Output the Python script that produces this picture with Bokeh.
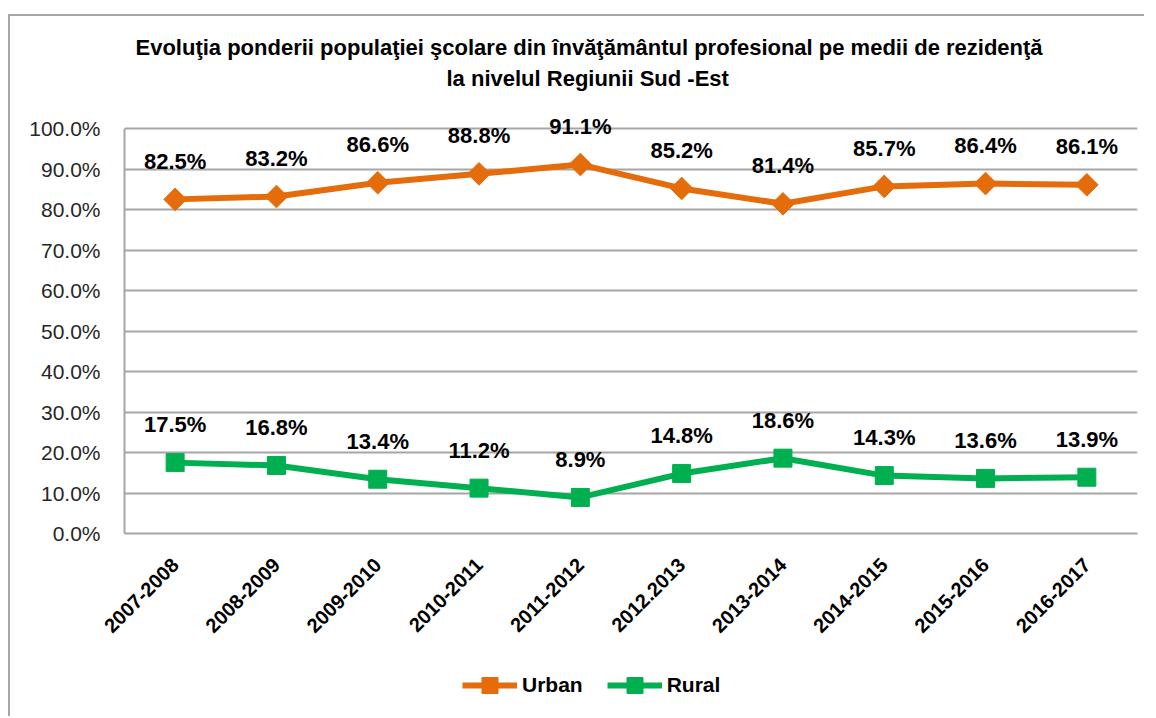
import math
from bokeh.plotting import figure
from bokeh.layouts import column
from bokeh.models import (ColumnDataSource, FactorRange, Range1d, FixedTicker,
                          PrintfTickFormatter, Title, Legend, LegendItem)
from bokeh.core.properties import value
from bokeh.embed import file_html
from bokeh.resources import INLINE

# ---- data ----
years = ["2007-2008", "2008-2009", "2009-2010", "2010-2011", "2011-2012",
         "2012.2013", "2013-2014", "2014-2015", "2015-2016", "2016-2017"]
urban = [82.5, 83.2, 86.6, 88.8, 91.1, 85.2, 81.4, 85.7, 86.4, 86.1]
rural = [17.5, 16.8, 13.4, 11.2, 8.9, 14.8, 18.6, 14.3, 13.6, 13.9]
y_ticks = [0, 10, 20, 30, 40, 50, 60, 70, 80, 90, 100]
series_names = ["Urban", "Rural"]
title_lines = ["Evoluţia ponderii populaţiei şcolare din învăţământul profesional pe medii de rezidenţă",
               "la nivelul Regiunii Sud -Est"]

FONT = "Liberation Sans"
ORANGE = "#E46C0A"
GREEN = "#00B050"
GRID = "#a6a6a6"

# layout (pixels)
FIG_W = 1134
PLOT_H = 405          # height of the 0..100 area
TOP_ROOM = 36         # frame room above 100 % for data labels
B_LEFT, B_TOP, B_RIGHT, B_BOTTOM = 114, 76, 7, 112
FIG_H = B_TOP + TOP_ROOM + PLOT_H + B_BOTTOM
y_top = y_ticks[-1] + TOP_ROOM / PLOT_H * (y_ticks[-1] - y_ticks[0])

p = figure(x_range=FactorRange(*years), y_range=Range1d(y_ticks[0], y_top),
           width=FIG_W, height=FIG_H, output_backend="svg", toolbar_location=None,
           min_border_left=B_LEFT, min_border_top=B_TOP, min_border_right=B_RIGHT,
           min_border_bottom=B_BOTTOM)
p.outline_line_color = None
p.background_fill_color = "white"
p.border_fill_color = "white"

# y axis
p.yaxis.ticker = FixedTicker(ticks=y_ticks)
p.yaxis.bounds = (y_ticks[0], y_ticks[-1])
p.yaxis.formatter = PrintfTickFormatter(format="%.1f%%")
p.yaxis.major_label_text_font = FONT
p.yaxis.major_label_text_font_size = "21px"
p.yaxis.major_label_text_color = "#262626"
p.yaxis.major_tick_line_color = None
p.yaxis.major_tick_out = 0
p.yaxis.major_tick_in = 0
p.yaxis.minor_tick_line_color = None
p.yaxis.axis_line_color = GRID
p.yaxis.axis_line_width = 2
p.yaxis.major_label_standoff = 24

# x axis
p.xaxis.major_label_orientation = math.pi / 4
p.xaxis.major_label_text_font = FONT
p.xaxis.major_label_text_font_style = "bold"
p.xaxis.major_label_text_font_size = "20px"
p.xaxis.major_label_text_color = "#000000"
p.xaxis.major_tick_line_color = None
p.xaxis.axis_line_color = GRID
p.xaxis.axis_line_width = 2
p.xaxis.major_label_standoff = 22

p.xgrid.grid_line_color = None
p.ygrid.ticker = FixedTicker(ticks=y_ticks)
p.ygrid.grid_line_color = GRID
p.ygrid.grid_line_width = 2

src = ColumnDataSource(dict(
    x=years, urban=urban, rural=rural,
    ulab=[f"{v:.1f}%" for v in urban],
    rlab=[f"{v:.1f}%" for v in rural],
))

p.line("x", "urban", source=src, line_color=ORANGE, line_width=6)
p.scatter("x", "urban", source=src, marker="square", angle=math.pi / 4,
          size=16, fill_color=ORANGE, line_color=ORANGE)
p.line("x", "rural", source=src, line_color=GREEN, line_width=6)
p.scatter("x", "rural", source=src, marker="square", size=18,
          fill_color=GREEN, line_color=GREEN)

for col, ycol in (("ulab", "urban"), ("rlab", "rural")):
    p.text("x", ycol, text=col, source=src,
           text_align="center", text_baseline="alphabetic", y_offset=-38,
           text_font=value(FONT), text_font_style="bold",
           text_font_size="22px", text_color="#000000")

# title: line 2 nearest the frame, then line 1
for t, off in ((title_lines[1], 322), (title_lines[0], 11)):
    p.add_layout(Title(text=t, align="left", offset=off, text_font=FONT,
                       text_font_style="bold", text_font_size="22px",
                       text_color="#000000", standoff=4), "above")

# ---- legend strip below the chart (same series, drawn out of its view) ----
LEG_H = 71
q = figure(width=FIG_W, height=LEG_H, x_range=FactorRange(*years),
           y_range=Range1d(y_ticks[-1] * 3, y_ticks[-1] * 4),
           output_backend="svg", toolbar_location=None, min_border=0)
q.axis.visible = False
q.grid.visible = False
q.outline_line_color = None
q.background_fill_color = "white"
q.border_fill_color = "white"
items = []
for name, ycol, color, ang, sz in ((series_names[0], "urban", ORANGE, math.pi / 4, 12),
                                   (series_names[1], "rural", GREEN, 0, 16)):
    lr = q.line("x", ycol, source=src, line_color=color, line_width=6)
    mr = q.scatter("x", ycol, source=src, marker="square", angle=ang, size=sz,
                   fill_color=color, line_color=color)
    items.append(LegendItem(label=name, renderers=[lr, mr]))

legend = Legend(items=items, location=(338, 11), orientation="horizontal",
                label_text_font=FONT, label_text_font_style="bold",
                label_text_font_size="21px", label_text_color="#000000",
                glyph_width=55, glyph_height=40, label_height=24,
                label_standoff=5, spacing=24, padding=0, margin=0,
                border_line_color=None, background_fill_alpha=0)
q.add_layout(legend, "center")

layout = column(p, q, spacing=0)
layout.margin = (14, 0, 0, 8)
layout.styles = {"border-left": "2px solid #a6a6a6", "border-top": "2px solid #a6a6a6"}

open("out.html", "w").write(file_html(layout, INLINE))
